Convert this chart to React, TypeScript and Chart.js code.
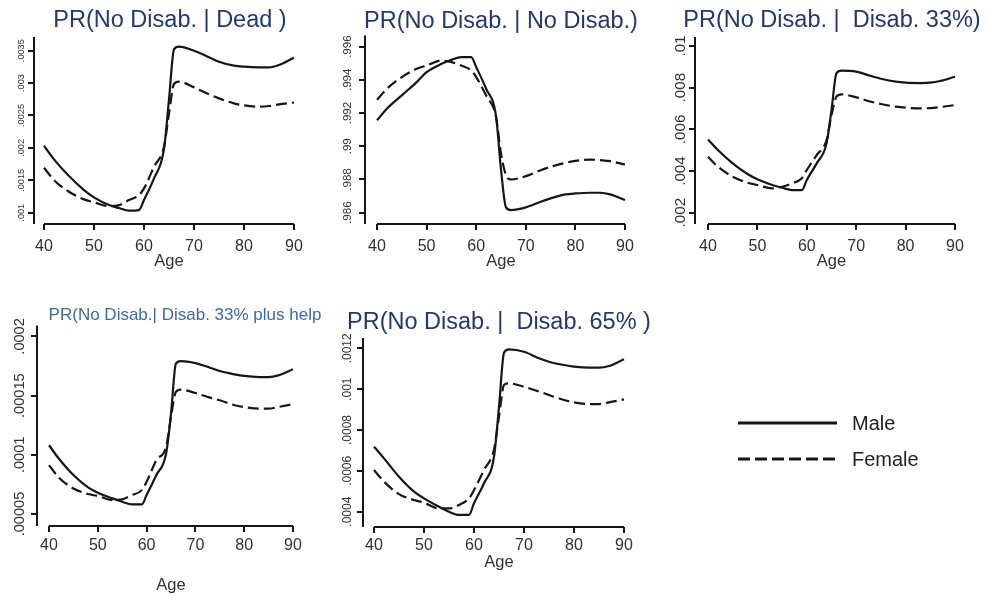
import { useEffect, useRef } from 'react';
import { Chart, registerables } from 'chart.js';
import type { Plugin } from 'chart.js';

Chart.register(...registerables);

const FONT = '"Liberation Sans", Arial, Helvetica, sans-serif';
const TITLE_COLOR = '#22396a';
const TITLE_COLOR_LIGHT = '#3f6a9c';
const INK = '#161616';
const LABEL_INK = '#303030';
const TICK_LEN = 6;
const X_FONT = 16;
const AGE_FONT = 16.5;

const AGES = [40, 42, 45, 48, 50, 53, 55, 57, 59, 60, 62, 64, 65, 66, 67, 70, 73, 75, 78, 80, 83, 85, 87, 90];
const X_TICKS = [40, 50, 60, 70, 80, 90];

// PR(No Disab. | Dead )
const DEAD_MALE = [0.002034, 0.001823, 0.001566, 0.00135, 0.001237, 0.001118, 0.001072, 0.001031, 0.001041, 0.001195, 0.00153, 0.00198, 0.00275, 0.00352, 0.003562, 0.0035, 0.0034, 0.00333, 0.003269, 0.003253, 0.003243, 0.003243, 0.003279, 0.003392];
const DEAD_FEMALE = [0.001694, 0.001504, 0.001324, 0.001206, 0.00116, 0.001103, 0.001118, 0.001195, 0.001273, 0.001375, 0.00171, 0.00202, 0.00253, 0.002986, 0.003022, 0.002934, 0.002826, 0.002764, 0.002687, 0.002656, 0.002636, 0.002646, 0.002672, 0.0027];
const DEAD_TICKS = [0.001, 0.0015, 0.002, 0.0025, 0.003, 0.0035];

// PR(No Disab. | No Disab.)
const NODIS_MALE = [0.99156, 0.99226, 0.99306, 0.99386, 0.99446, 0.99496, 0.9952, 0.99536, 0.99536, 0.99476, 0.99346, 0.9918, 0.9886, 0.98632, 0.98616, 0.98632, 0.98666, 0.98686, 0.9871, 0.98716, 0.9872, 0.9872, 0.9871, 0.98676];
const NODIS_FEMALE = [0.9928, 0.99346, 0.99416, 0.99466, 0.99486, 0.99516, 0.99506, 0.99486, 0.99456, 0.99416, 0.99306, 0.99176, 0.98956, 0.98826, 0.988, 0.9882, 0.98856, 0.98876, 0.989, 0.98912, 0.9892, 0.98916, 0.9891, 0.9889];
const NODIS_TICKS = [0.986, 0.988, 0.99, 0.992, 0.994, 0.996];

// PR(No Disab. |  Disab. 33%)
const DIS33_MALE = [0.005519, 0.005008, 0.004368, 0.003856, 0.0036, 0.003328, 0.0032, 0.003088, 0.003088, 0.003568, 0.004368, 0.005327, 0.006927, 0.008687, 0.008815, 0.008767, 0.008559, 0.008431, 0.008287, 0.008239, 0.008223, 0.008239, 0.008319, 0.008527];
const DIS33_FEMALE = [0.004688, 0.004208, 0.003728, 0.00344, 0.003328, 0.003168, 0.003248, 0.003408, 0.003648, 0.004048, 0.004768, 0.005487, 0.006687, 0.007567, 0.007679, 0.007535, 0.007327, 0.007215, 0.007087, 0.007039, 0.007007, 0.007023, 0.007071, 0.007167];
const DIS33_TICKS = [0.002, 0.004, 0.006, 0.008, 0.01];

// PR(No Disab.| Disab. 33% plus help
const HELP_MALE = [0.0001081, 0.0000969, 0.0000829, 0.0000725, 0.000068, 0.0000632, 0.0000604, 0.0000581, 0.0000581, 0.000066, 0.0000829, 0.0001011, 0.0001348, 0.000177, 0.0001792, 0.0001775, 0.0001736, 0.0001708, 0.000168, 0.0001666, 0.0001657, 0.0001657, 0.0001671, 0.0001722];
const HELP_FEMALE = [0.0000913, 0.0000809, 0.0000716, 0.0000669, 0.0000652, 0.0000618, 0.0000624, 0.000066, 0.0000702, 0.0000772, 0.0000955, 0.0001067, 0.000132, 0.0001531, 0.0001551, 0.0001522, 0.0001483, 0.0001461, 0.0001419, 0.0001404, 0.000139, 0.000139, 0.0001404, 0.0001427];
const HELP_TICKS = [0.00005, 0.0001, 0.00015, 0.0002];

// PR(No Disab. |  Disab. 65% )
const DIS65_MALE = [0.000718, 0.000661, 0.000571, 0.000498, 0.000465, 0.000424, 0.0004, 0.000384, 0.000384, 0.000441, 0.000539, 0.000669, 0.000914, 0.001178, 0.001195, 0.001183, 0.001151, 0.001134, 0.001118, 0.00111, 0.001105, 0.001105, 0.001113, 0.001146];
const DIS65_FEMALE = [0.000604, 0.000547, 0.000486, 0.000457, 0.000444, 0.000416, 0.000416, 0.000433, 0.000465, 0.000506, 0.000604, 0.000705, 0.000865, 0.00102, 0.001028, 0.001012, 0.000988, 0.000971, 0.000947, 0.000935, 0.000927, 0.000927, 0.000935, 0.00095];
const DIS65_TICKS = [0.0004, 0.0006, 0.0008, 0.001, 0.0012];

const SERIES_NAMES = ['Male', 'Female'];

interface PanelSpec {
  title: string;
  titleSize: number;
  titleColor: string;
  male: number[];
  female: number[];
  yTicks: number[];
  yMin: number;
  yMax: number;
  yFont: number;
  // layout, page pixels
  box: { left: number; top: number; width: number; height: number };
  axisX: number;
  x40: number;
  x90: number;
  axisY: number;
  chartTop: number;
  titleY: number;
  yLabelX: number;
  xLabelY: number;
  ageY: number;
}

const PANELS: PanelSpec[] = [
  {
    title: 'PR(No Disab. | Dead )', titleSize: 23.5, titleColor: TITLE_COLOR,
    male: DEAD_MALE, female: DEAD_FEMALE, yTicks: DEAD_TICKS, yMin: 0.000826, yMax: 0.003711, yFont: 9.2,
    box: { left: 0, top: 0, width: 340, height: 280 },
    axisX: 34, x40: 44, x90: 294, axisY: 224, chartTop: 37, titleY: 21, yLabelX: 21, xLabelY: 246.5, ageY: 261.5,
  },
  {
    title: 'PR(No Disab. | No Disab.)', titleSize: 23.5, titleColor: TITLE_COLOR,
    male: NODIS_MALE, female: NODIS_FEMALE, yTicks: NODIS_TICKS, yMin: 0.98532, yMax: 0.99666, yFont: 11.6,
    box: { left: 336, top: 0, width: 330, height: 280 },
    axisX: 365, x40: 377, x90: 625, axisY: 224, chartTop: 35.6, titleY: 21.5, yLabelX: 348, xLabelY: 246.5, ageY: 261.5,
  },
  {
    title: 'PR(No Disab. |  Disab. 33%)', titleSize: 23.5, titleColor: TITLE_COLOR,
    male: DIS33_MALE, female: DIS33_FEMALE, yTicks: DIS33_TICKS, yMin: 0.001458, yMax: 0.010432, yFont: 15.2,
    box: { left: 672, top: 0, width: 320, height: 280 },
    axisX: 695, x40: 708, x90: 955, axisY: 224, chartTop: 37, titleY: 21, yLabelX: 681, xLabelY: 246.5, ageY: 261.5,
  },
  {
    title: 'PR(No Disab.| Disab. 33% plus help', titleSize: 17, titleColor: TITLE_COLOR_LIGHT,
    male: HELP_MALE, female: HELP_FEMALE, yTicks: HELP_TICKS, yMin: 0.0000399, yMax: 0.0002093, yFont: 14.6,
    box: { left: 0, top: 290, width: 370, height: 314 },
    axisX: 37, x40: 49, x90: 293, axisY: 526, chartTop: 325.4, titleY: 315.2, yLabelX: 20, xLabelY: 545.7, ageY: 585,
  },
  {
    title: 'PR(No Disab. |  Disab. 65% )', titleSize: 23.5, titleColor: TITLE_COLOR,
    male: DIS65_MALE, female: DIS65_FEMALE, yTicks: DIS65_TICKS, yMin: 0.000325, yMax: 0.0012504, yFont: 12,
    box: { left: 336, top: 290, width: 326, height: 314 },
    axisX: 363, x40: 374, x90: 624, axisY: 527, chartTop: 338, titleY: 323, yLabelX: 348, xLabelY: 545.7, ageY: 562,
  },
];

// Stata-style labels: .0035 rather than 0.0035
function fmtTick(v: number) {
  return String(v).replace(/^0\./, '.');
}

function measure(text: string, size: number) {
  const ctx = document.createElement('canvas').getContext('2d');
  if (!ctx) return text.length * size * 0.55;
  ctx.font = `${size}px ${FONT}`;
  return ctx.measureText(text).width;
}

// y axis line along the chart's left edge, x axis line only from 40 to 90
const axisLines: Plugin<'line'> = {
  id: 'axisLines',
  afterDraw(chart) {
    const { ctx, chartArea, scales } = chart;
    const x = scales.x;
    ctx.save();
    ctx.strokeStyle = INK;
    ctx.lineWidth = 2;
    ctx.beginPath();
    ctx.moveTo(chartArea.left, chartArea.top);
    ctx.lineTo(chartArea.left, chartArea.bottom);
    ctx.moveTo(x.getPixelForValue(X_TICKS[0]), chartArea.bottom);
    ctx.lineTo(x.getPixelForValue(X_TICKS[X_TICKS.length - 1]), chartArea.bottom);
    ctx.stroke();
    ctx.restore();
  },
};

function Panel({ spec }: { spec: PanelSpec }) {
  const ref = useRef<HTMLCanvasElement>(null);
  const { box } = spec;

  useEffect(() => {
    if (!ref.current) return;
    Chart.getChart(ref.current)?.destroy();

    const ppu = (spec.x90 - spec.x40) / 50;
    const xPad = (spec.x40 - spec.axisX) / ppu;
    const chartRight = spec.x90 + (spec.x40 - spec.axisX);
    const leftW = spec.axisX - box.left;
    const rightW = box.left + box.width - chartRight;
    const bottomH = box.top + box.height - spec.axisY;

    const widest = Math.max(...spec.yTicks.map((v) => measure(fmtTick(v), spec.yFont)));
    const yPad = spec.axisX - TICK_LEN - spec.yLabelX - widest / 2;

    const titleLh = spec.titleSize * 1.2;
    const titleTop = spec.titleY - box.top - titleLh / 2;
    const titleBottom = Math.max(0, spec.chartTop - box.top - titleTop - titleLh);
    const xTickPad = spec.xLabelY - spec.axisY - TICK_LEN - (X_FONT * 1.2) / 2;
    const agePad = box.top + box.height - spec.ageY - (AGE_FONT * 1.2) / 2;

    const grid = {
      display: true,
      drawOnChartArea: false,
      drawTicks: true,
      tickLength: TICK_LEN,
      color: INK,
      lineWidth: 2,
    };

    const chart = new Chart(ref.current, {
      type: 'line',
      data: {
        datasets: [
          {
            label: SERIES_NAMES[0],
            data: AGES.map((a, i) => ({ x: a, y: spec.male[i] })),
            borderColor: INK,
            borderWidth: 2.2,
            pointRadius: 0,
            cubicInterpolationMode: 'monotone',
            fill: false,
          },
          {
            label: SERIES_NAMES[1],
            data: AGES.map((a, i) => ({ x: a, y: spec.female[i] })),
            borderColor: INK,
            borderWidth: 2.2,
            borderDash: [11, 5],
            pointRadius: 0,
            cubicInterpolationMode: 'monotone',
            fill: false,
          },
        ],
      },
      options: {
        animation: false,
        responsive: false,
        maintainAspectRatio: false,
        events: [],
        layout: { padding: 0 },
        plugins: {
          legend: { display: false },
          tooltip: { enabled: false },
          title: {
            display: true,
            text: spec.title,
            color: spec.titleColor,
            font: { family: FONT, size: spec.titleSize, weight: 'normal' },
            padding: { top: titleTop, bottom: titleBottom },
          },
        },
        scales: {
          x: {
            type: 'linear',
            min: 40 - xPad,
            max: 90 + xPad,
            afterBuildTicks: (s) => {
              s.ticks = X_TICKS.map((v) => ({ value: v }));
            },
            afterFit: (s) => {
              s.height = bottomH;
            },
            grid,
            border: { display: false },
            ticks: {
              autoSkip: false,
              maxRotation: 0,
              padding: xTickPad,
              color: LABEL_INK,
              font: { family: FONT, size: X_FONT },
            },
            title: {
              display: true,
              text: 'Age',
              color: LABEL_INK,
              font: { family: FONT, size: AGE_FONT },
              padding: { top: 0, bottom: agePad },
            },
          },
          y: {
            type: 'linear',
            position: 'left',
            min: spec.yMin,
            max: spec.yMax,
            afterBuildTicks: (s) => {
              s.ticks = spec.yTicks.map((v) => ({ value: v }));
            },
            afterFit: (s) => {
              s.width = leftW;
            },
            grid,
            border: { display: false },
            ticks: {
              autoSkip: false,
              minRotation: 90,
              maxRotation: 90,
              crossAlign: 'center',
              padding: yPad,
              color: LABEL_INK,
              font: { family: FONT, size: spec.yFont },
              callback: (v) => fmtTick(Number(v)),
            },
          },
          // empty box on the right so the title centres over the plot
          yRight: {
            type: 'linear',
            position: 'right',
            display: true,
            afterFit: (s) => {
              s.width = rightW;
            },
            grid: { display: false },
            border: { display: false },
            ticks: { display: false },
          },
        },
      },
      plugins: [axisLines],
    });

    return () => chart.destroy();
  }, [spec]);

  return (
    <canvas
      ref={ref}
      width={box.width}
      height={box.height}
      style={{ position: 'absolute', left: box.left, top: box.top, width: box.width, height: box.height }}
    />
  );
}

export default function App() {
  return (
    <div
      style={{
        position: 'fixed',
        left: 0,
        top: 0,
        width: 988,
        height: 604,
        overflow: 'hidden',
        background: '#ffffff',
        fontFamily: FONT,
      }}
    >
      {PANELS.map((p) => (
        <Panel key={p.title} spec={p} />
      ))}

      <svg width={988} height={604} style={{ position: 'absolute', left: 0, top: 0 }}>
        <line x1={738} y1={423} x2={837} y2={423} stroke={INK} strokeWidth={3} />
        <line x1={738} y1={459} x2={837} y2={459} stroke={INK} strokeWidth={3} strokeDasharray="12 5" />
      </svg>
      <div style={{ position: 'absolute', left: 852, top: 411, fontSize: 20, lineHeight: '24px', color: '#222' }}>
        {SERIES_NAMES[0]}
      </div>
      <div style={{ position: 'absolute', left: 852, top: 447, fontSize: 20, lineHeight: '24px', color: '#222' }}>
        {SERIES_NAMES[1]}
      </div>
    </div>
  );
}
